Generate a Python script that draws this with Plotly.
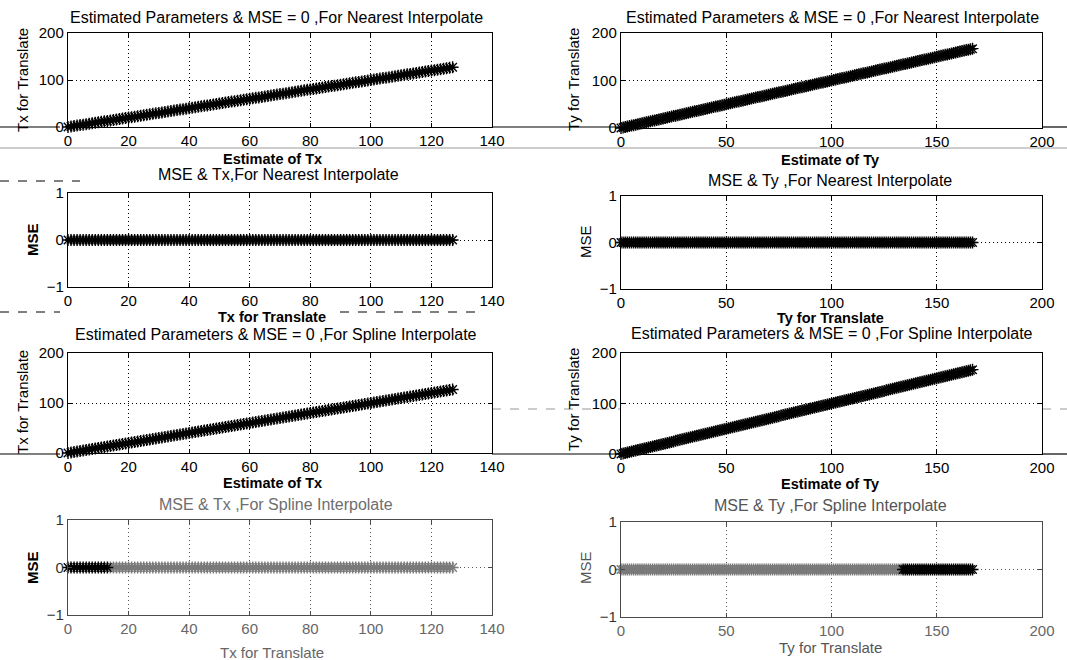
import plotly.graph_objects as go

# ---------------- data ----------------
# translation values applied (Tx: 0..127, Ty: 0..167); estimates equal them (MSE = 0)
tx_for_translate = [0, 1, 2, 3, 4, 5, 6, 7, 8, 9, 10, 11, 12, 13, 14, 15, 16, 17, 18, 19,
                    20, 21, 22, 23, 24, 25, 26, 27, 28, 29, 30, 31, 32, 33, 34, 35, 36, 37, 38, 39,
                    40, 41, 42, 43, 44, 45, 46, 47, 48, 49, 50, 51, 52, 53, 54, 55, 56, 57, 58, 59,
                    60, 61, 62, 63, 64, 65, 66, 67, 68, 69, 70, 71, 72, 73, 74, 75, 76, 77, 78, 79,
                    80, 81, 82, 83, 84, 85, 86, 87, 88, 89, 90, 91, 92, 93, 94, 95, 96, 97, 98, 99,
                    100, 101, 102, 103, 104, 105, 106, 107, 108, 109, 110, 111, 112, 113, 114, 115,
                    116, 117, 118, 119, 120, 121, 122, 123, 124, 125, 126, 127]
ty_for_translate = [0, 1, 2, 3, 4, 5, 6, 7, 8, 9, 10, 11, 12, 13, 14, 15, 16, 17, 18, 19,
                    20, 21, 22, 23, 24, 25, 26, 27, 28, 29, 30, 31, 32, 33, 34, 35, 36, 37, 38, 39,
                    40, 41, 42, 43, 44, 45, 46, 47, 48, 49, 50, 51, 52, 53, 54, 55, 56, 57, 58, 59,
                    60, 61, 62, 63, 64, 65, 66, 67, 68, 69, 70, 71, 72, 73, 74, 75, 76, 77, 78, 79,
                    80, 81, 82, 83, 84, 85, 86, 87, 88, 89, 90, 91, 92, 93, 94, 95, 96, 97, 98, 99,
                    100, 101, 102, 103, 104, 105, 106, 107, 108, 109, 110, 111, 112, 113, 114, 115,
                    116, 117, 118, 119, 120, 121, 122, 123, 124, 125, 126, 127, 128, 129, 130, 131,
                    132, 133, 134, 135, 136, 137, 138, 139, 140, 141, 142, 143, 144, 145, 146, 147,
                    148, 149, 150, 151, 152, 153, 154, 155, 156, 157, 158, 159, 160, 161, 162, 163,
                    164, 165, 166, 167]
tx_estimate = list(tx_for_translate)   # MSE = 0 -> estimate equals the applied value
ty_estimate = list(ty_for_translate)
mse_tx = [0] * len(tx_for_translate)
mse_ty = [0] * len(ty_for_translate)

# in the scanned bottom row, part of the markers is printed black, the rest gray
spline_tx_black_upto = 13   # Tx <= 13 black
spline_ty_black_from = 134  # Ty >= 134 black

tx_ticks = [0, 20, 40, 60, 80, 100, 120, 140]
ty_ticks = [0, 50, 100, 150, 200]
est_ticks = [0, 100, 200]
mse_ticks = [-1, 0, 1]

W, H = 1067, 660
FONT = "Liberation Sans, Arial, sans-serif"


def px(x):
    return x / W


def py(y):
    return 1 - y / H


# plot-area pixel boxes per column: (left, right) and per (row, col): (top, bottom)
cols = [(68, 492), (621, 1042)]
rows = {(0, 0): (33, 127), (0, 1): (33, 128),
        (1, 0): (193, 287), (1, 1): (196, 289),
        (2, 0): (353, 453), (2, 1): (353, 454),
        (3, 0): (520, 615), (3, 1): (522, 617)}

fig = go.Figure()

BLACK = "#000000"
GRAY = "#7a7a7a"


def star(x, y, xa, ya, color=BLACK):
    fig.add_trace(go.Scatter(
        x=x, y=y, xaxis=xa, yaxis=ya, mode="markers", showlegend=False,
        marker=dict(symbol="asterisk-open", size=10, color=color,
                    line=dict(color=color, width=1.4)),
        hoverinfo="skip", cliponaxis=False))


def ax_id(r, c):
    return r * 2 + c + 1


# row 0 : estimated params, nearest
star(tx_for_translate, tx_estimate, "x1", "y1")
star(ty_for_translate, ty_estimate, "x2", "y2")
# row 1 : MSE, nearest
star(tx_for_translate, mse_tx, "x3", "y3")
star(ty_for_translate, mse_ty, "x4", "y4")
# row 2 : estimated params, spline
star(tx_for_translate, tx_estimate, "x5", "y5")
star(ty_for_translate, ty_estimate, "x6", "y6")
# row 3 : MSE, spline (gray + black portions as printed)
gx = [v for v in tx_for_translate if v > spline_tx_black_upto]
bx = [v for v in tx_for_translate if v <= spline_tx_black_upto]
star(gx, [mse_tx[tx_for_translate.index(v)] for v in gx], "x7", "y7", GRAY)
star(bx, [mse_tx[tx_for_translate.index(v)] for v in bx], "x7", "y7", BLACK)
gy = [v for v in ty_for_translate if v < spline_ty_black_from]
by = [v for v in ty_for_translate if v >= spline_ty_black_from]
star(gy, [mse_ty[ty_for_translate.index(v)] for v in gy], "x8", "y8", GRAY)
star(by, [mse_ty[ty_for_translate.index(v)] for v in by], "x8", "y8", BLACK)

layout = dict(
    width=W, height=H, margin=dict(l=0, r=0, t=0, b=0, autoexpand=False),
    paper_bgcolor="white", plot_bgcolor="white", showlegend=False,
    font=dict(family=FONT, color="black"),
)

for r in range(4):
    for c in range(2):
        n = ax_id(r, c)
        l, rr = cols[c]
        t, b = rows[(r, c)]
        faded = (r == 3)
        lc = "#4a4a4a" if faded else BLACK
        gc = "#555555" if faded else BLACK
        xtc = "#666666" if faded else BLACK
        ytc = "#333333" if faded else BLACK
        xt = tx_ticks if c == 0 else ty_ticks
        yt = est_ticks if r in (0, 2) else mse_ticks
        common = dict(showline=True, mirror="ticks", linecolor=lc, linewidth=1.4,
                      showgrid=True, gridcolor=gc, griddash="1px,3px", gridwidth=1.2,
                      ticks="inside", ticklen=4, tickcolor=lc, zeroline=False,
                      automargin=False)
        layout["xaxis%d" % n] = dict(
            domain=[px(l), px(rr)], anchor="y%d" % n,
            range=[xt[0], xt[-1]], tickvals=xt,
            tickfont=dict(family=FONT, size=15, color=xtc), **common)
        layout["yaxis%d" % n] = dict(
            domain=[py(b), py(t)], anchor="x%d" % n,
            range=[yt[0], yt[-1]], tickvals=yt,
            tickfont=dict(family=FONT, size=15, color=ytc), **common)

fig.update_layout(**layout)

ann = []


def text(s, x, y, size=16, color=BLACK, bold=False, angle=0):
    ann.append(dict(text=("<b>%s</b>" % s) if bold else s, x=px(x), y=py(y),
                    xref="paper", yref="paper", showarrow=False, textangle=angle,
                    xanchor="center", yanchor="middle",
                    font=dict(family=FONT, size=size, color=color)))


# titles
text("Estimated Parameters & MSE = 0 ,For Nearest Interpolate", 276, 17)
text("Estimated Parameters & MSE = 0 ,For Nearest Interpolate", 832, 17)
text("MSE & Tx,For Nearest Interpolate", 278, 174)
text("MSE & Ty ,For Nearest Interpolate", 830, 180)
text("Estimated Parameters & MSE = 0 ,For Spline Interpolate", 276, 334)
text("Estimated Parameters & MSE = 0 ,For Spline Interpolate", 832, 333)
text("MSE & Tx ,For Spline Interpolate", 276, 504, color="#6e6e6e")
text("MSE & Ty ,For Spline Interpolate", 830, 505, color="#555555")

# x-axis titles
text("Estimate of Tx", 272, 159, size=14.5, bold=True)
text("Estimate of Ty", 830, 160, size=14.5, bold=True)
text("Tx for Translate", 272, 317, size=14.5, bold=True)
text("Ty for Translate", 830, 318, size=14.5, bold=True)
text("Estimate of Tx", 272, 483, size=14.5, bold=True)
text("Estimate of Ty", 830, 484, size=14.5, bold=True)
text("Tx for Translate", 272, 652, size=15, color="#666666")
text("Ty for Translate", 830, 647, size=15, color="#555555")

# y-axis titles
text("Tx for Translate", 22, 80, size=15, angle=-90)
text("Ty for Translate", 573, 80, size=15, angle=-90)
text("MSE", 32, 240, size=15, bold=True, angle=-90)
text("MSE", 585, 242, size=15, angle=-90)
text("Tx for Translate", 22, 402, size=15, angle=-90)
text("Ty for Translate", 573, 400, size=15, angle=-90)
text("MSE", 32, 568, size=15, bold=True, angle=-90)
text("MSE", 585, 568, size=15, color="#555555", angle=-90)

fig.update_layout(annotations=ann)

# scan artefact lines between panels
shapes = []


def hline(x0, x1, y, color="#000000", width=1, dash="solid"):
    shapes.append(dict(type="line", xref="paper", yref="paper",
                       x0=px(x0), x1=px(x1), y0=py(y), y1=py(y),
                       line=dict(color=color, width=width, dash=dash), layer="below"))


hline(0, 60, 127, width=1.2)
hline(492, 621, 127, width=1.2)
hline(1042, 1067, 127, width=1.2)
hline(0, 1067, 148, color="#9a9a9a", width=1)
hline(0, 80, 181, dash="dash")
hline(0, 60, 312, dash="dash")
hline(340, 480, 312, dash="dash")
hline(492, 621, 409, color="#999999", dash="dash")
hline(1042, 1067, 409, color="#999999", dash="dash")
hline(0, 60, 454, width=1.2)
hline(492, 621, 454, width=1.2)
hline(1042, 1067, 454, width=1.2)
fig.update_layout(shapes=shapes)

fig.write_html("out.html", config={"displayModeBar": False},
               post_script="document.body.style.margin='0';document.body.style.overflow='hidden';")
